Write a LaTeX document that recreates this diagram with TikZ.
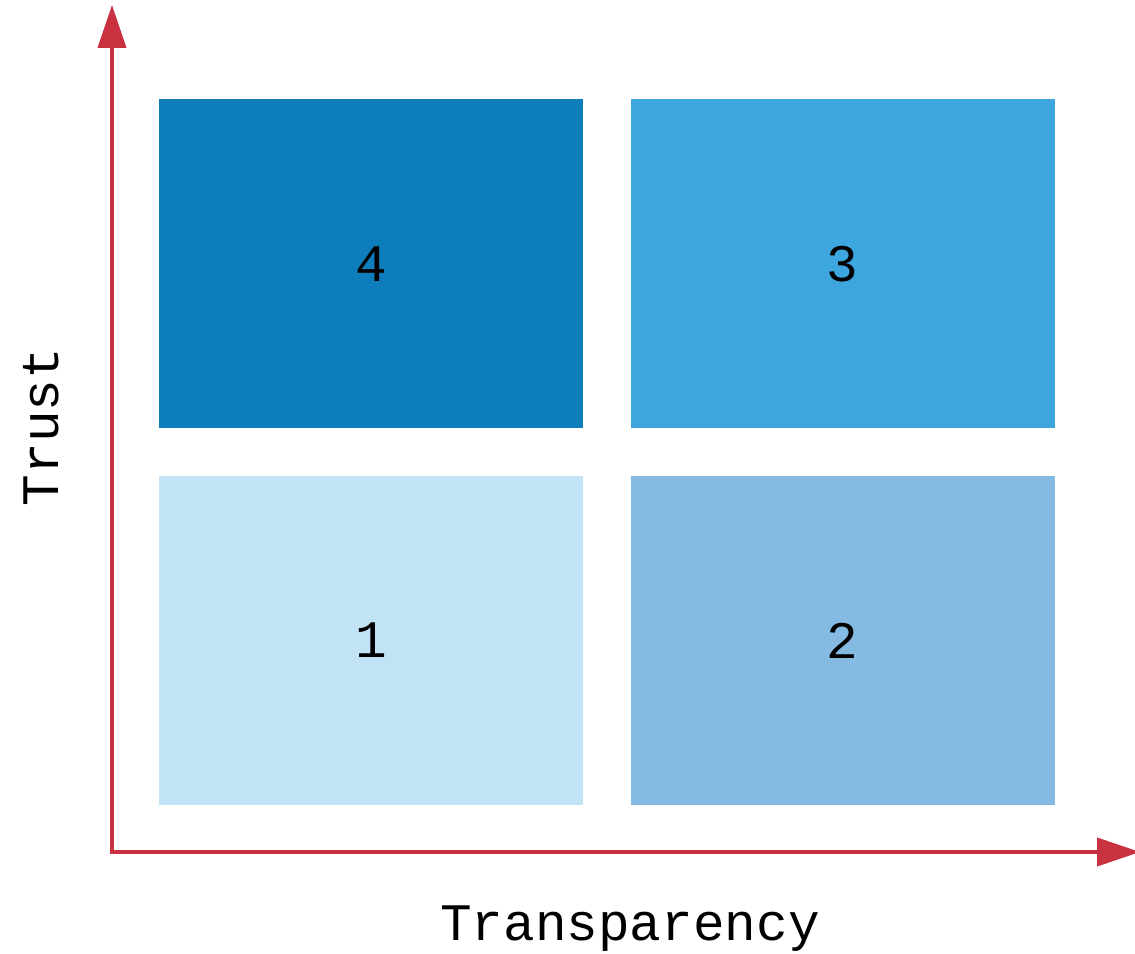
\documentclass[tikz,border=0pt]{standalone}
\usepackage{fontspec}
\setmainfont{Liberation Mono}
\usetikzlibrary{arrows.meta, positioning}
\definecolor{axisred}{HTML}{C8313F}
\definecolor{qfour}{HTML}{0E7DBB}
\definecolor{qthree}{HTML}{3DA6DF}
\definecolor{qone}{HTML}{C2E3F5}
\definecolor{qtwo}{HTML}{85BAE2}

\begin{document}
\begin{tikzpicture}[
    quad/.style={rectangle, minimum width=8.48cm, minimum height=6.58cm, inner sep=0pt, text=black, font=\fontsize{30}{36}\selectfont},
    axis/.style={draw=axisred, line width=2.3pt, {Triangle[length=8.6mm, width=5.6mm, fill=axisred]}-{Triangle[length=8.6mm, width=5.6mm, fill=axisred]}},
    lab/.style={text=black, anchor=base, font=\fontsize{30}{36}\selectfont}
  ]
    \useasboundingbox (0,0) rectangle (22.7,19.06);%fixes the page size
    \node (q1) [quad, fill=qone] at (7.42,6.25){1};%bottom left quadrant
    \node (q2) [quad, fill=qtwo, right=0.94cm of q1]{2};%bottom right quadrant
    \node (q4) [quad, fill=qfour, above=0.94cm of q1]{4};%top left quadrant
    \node (q3) [quad, fill=qthree, right=0.94cm of q4]{3};%top right quadrant
    \coordinate (O) at (2.24,2.02);%origin of the axes
    \coordinate (ytip) at (2.24,18.96);%end of trust axis
    \coordinate (xtip) at (22.8,2.02);%end of transparency axis
    \draw[axis] (ytip) -- (O) -- (xtip);%draws both axes
    \node (xlab) [lab] at (12.6,0.26){Transparency};%x axis label
    \node (ylab) [lab, rotate=90] at (1.16,10.52){Trust};%y axis label
\end{tikzpicture}
\end{document}
